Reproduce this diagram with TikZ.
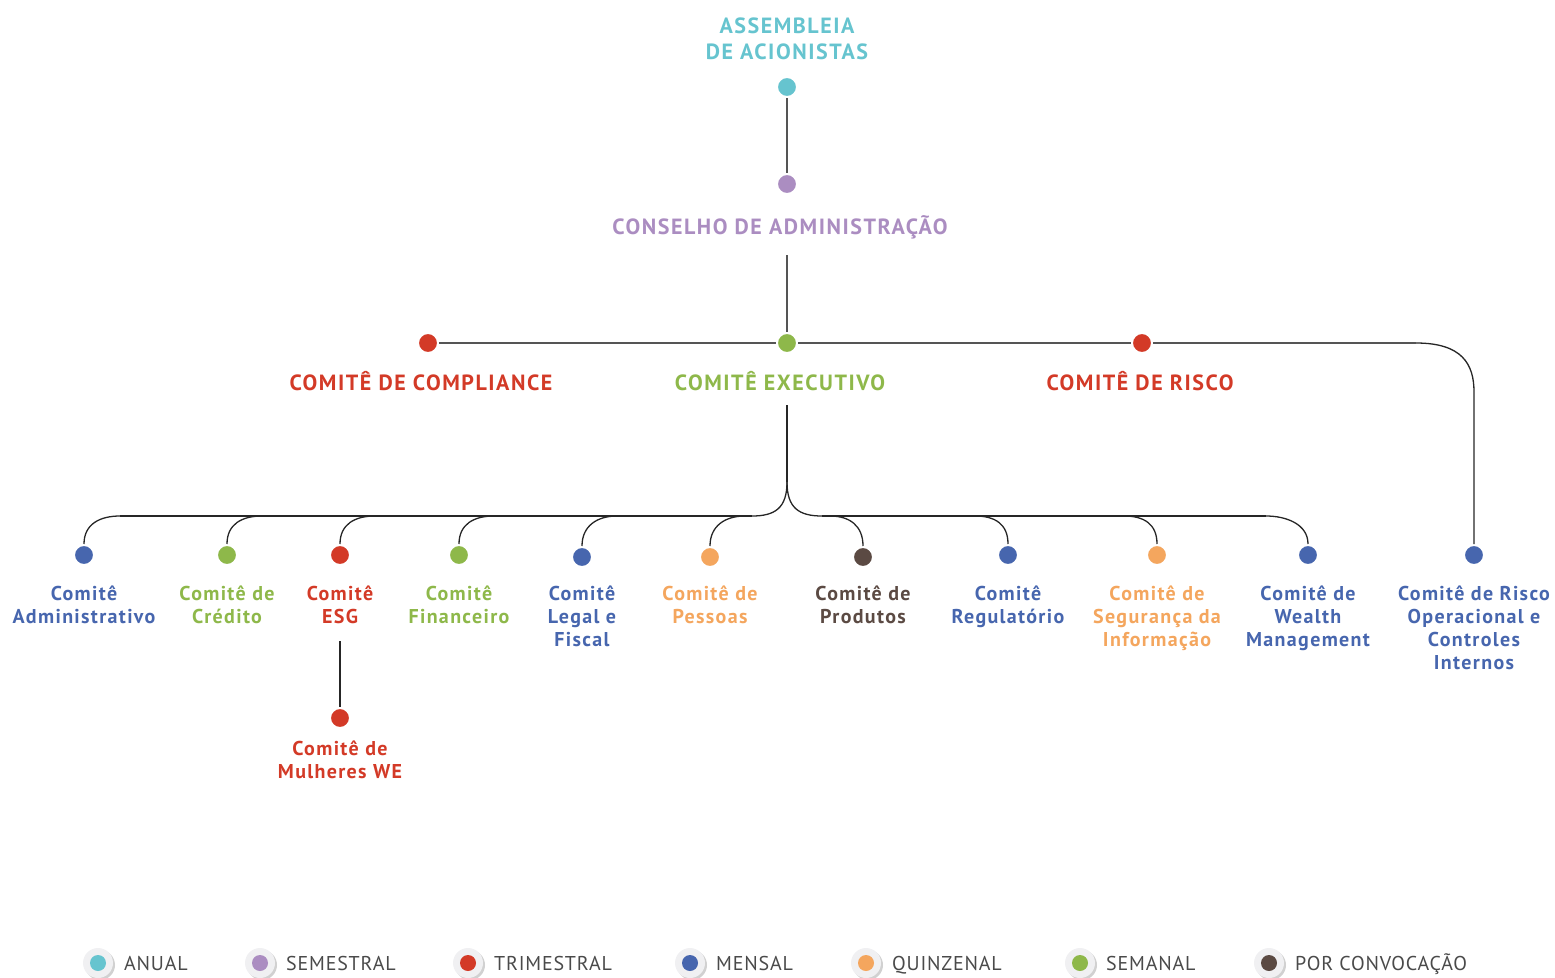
\documentclass[tikz,border=0pt]{standalone}
\usepackage{fontspec}
\setmainfont{PT Sans}
\newfontfamily\spacedbig[LetterSpace=7]{PT Sans}
\newfontfamily\spacedlab[LetterSpace=6.7]{PT Sans}
\newfontfamily\spacedleg[LetterSpace=4]{PT Sans}
\definecolor{cteal}{HTML}{66C4CF}
\definecolor{cpurple}{HTML}{AB8DC1}
\definecolor{cred}{HTML}{D33A27}
\definecolor{cblue}{HTML}{4766AE}
\definecolor{cgreen}{HTML}{8EB84A}
\definecolor{corange}{HTML}{F4A65E}
\definecolor{cbrown}{HTML}{5B4A43}
\definecolor{cline}{HTML}{555555}
\definecolor{clegtext}{HTML}{4A4A4A}
\definecolor{clegbg}{HTML}{F0F0F2}
\tikzset{
  dot/.style={circle, fill=#1, draw=white, line width=2pt, minimum size=20pt, inner sep=0pt},
  topline/.style={draw=cline, line width=1.8pt},
  busline/.style={draw=black!85, line width=1.3pt},
  big/.style={font=\spacedbig\bfseries\fontsize{22}{26}\selectfont, inner sep=0pt, anchor=base},
  lab/.style={font=\spacedlab\bfseries\fontsize{20}{23}\selectfont, inner sep=0pt, align=center, anchor=north},
  legtext/.style={font=\spacedleg\fontsize{20}{22}\selectfont, text=clegtext, inner sep=0pt, anchor=base west},
}
\newcommand\legitem[4]{%
  \fill[black!18] (#1+2,963+2) circle (15pt);
  \fill[clegbg] (#1,963) circle (15pt);
  \node[circle, fill=#2, inner sep=0pt, minimum size=16pt] (#4) at (#1,963) {};
  \node[legtext] at (#1+26,970.5) {#3};
}
\begin{document}
\begin{tikzpicture}[x=1pt,y=-1pt]
\useasboundingbox (0,0) rectangle (1555,977);
% top levels
\node[big, text=cteal, align=center, anchor=north] (asmT) at (787,18) {ASSEMBLEIA\\DE ACIONISTAS};
\node[dot=cteal] (asm) at (787,87) {};
\node[dot=cpurple] (cons) at (787,184) {};
\node[big, text=cpurple] (consT) at (780,234) {CONSELHO DE ADMINISTRAÇÃO};
\coordinate (c1) at (787,255);
\draw[topline] (asm) -- (cons);

\node[dot=cred] (comp) at (428,343) {};
\node[dot=cgreen] (exe) at (787,343) {};
\node[dot=cred] (risk) at (1142,343) {};
\node[big, text=cred] (compT) at (421,390) {COMITÊ DE COMPLIANCE};
\node[big, text=cgreen] (exeT) at (780,390) {COMITÊ EXECUTIVO};
\node[big, text=cred] (riskT) at (1140,390) {COMITÊ DE RISCO};
\draw[topline] (c1) -- (exe);
\draw[topline] (comp) -- (exe);
\draw[topline] (exe) -- (risk);

% committee dots
\node[dot=cblue] (adm) at (84,555) {};
\node[dot=cgreen] (cre) at (227,555) {};
\node[dot=cred] (esg) at (340,555) {};
\node[dot=cgreen] (fin) at (459,555) {};
\node[dot=cblue] (leg) at (582,557) {};
\node[dot=corange] (pes) at (710,557) {};
\node[dot=cbrown] (pro) at (863,557) {};
\node[dot=cblue] (reg) at (1008,555) {};
\node[dot=corange] (seg) at (1157,555) {};
\node[dot=cblue] (wea) at (1308,555) {};
\node[dot=cblue] (rop) at (1474,555) {};
\node[dot=cred] (mul) at (340,718) {};

% risk -> operational risk
\coordinate (rc1) at (1416,343);
\coordinate (rc2) at (1474,392);
\draw[topline] (risk) -- (rc1);
\draw[busline] (rc1) .. controls (1462,343) and (1474,364) .. (rc2) -- (rop);

% executive bus
\coordinate (e1) at (787,405);
\coordinate (split) at (787,482);
\coordinate (sl) at (752,516);
\coordinate (sr) at (822,516);
\draw[busline] (e1) -- (split);
\draw[busline] (split) .. controls (787,508) and (775,516) .. (sl);
\draw[busline] (split) .. controls (787,508) and (799,516) .. (sr);
\coordinate (badm) at (120,516);
\coordinate (bcre) at (262,516);
\coordinate (besg) at (375,516);
\coordinate (bfin) at (494,516);
\coordinate (bleg) at (617,516);
\coordinate (bpes) at (745,516);
\coordinate (bpro) at (830,516);
\coordinate (breg) at (975,516);
\coordinate (bseg) at (1124,516);
\coordinate (bwea) at (1266,516);
\draw[busline] (badm) -- (sl);
\draw[busline] (sr) -- (bwea);
\foreach \c/\b in {adm/badm, cre/bcre, esg/besg, fin/bfin, leg/bleg, pes/bpes}
  \draw[busline] (\c.north) .. controls +(0,-20) and +(-20,0) .. (\b);
\foreach \c/\b in {pro/bpro, reg/breg, seg/bseg, wea/bwea}
  \draw[busline] (\c.north) .. controls +(0,-20) and +(20,0) .. (\b);

% labels
\node[lab, text=cblue] (admT) at (84,586) {Comitê\\Administrativo};
\node[lab, text=cgreen] (creT) at (227,586) {Comitê de\\Crédito};
\node[lab, text=cred] (esgT) at (340,586) {Comitê\\ESG};
\node[lab, text=cgreen] (finT) at (459,586) {Comitê\\Financeiro};
\node[lab, text=cblue] (legT) at (582,586) {Comitê\\Legal e\\Fiscal};
\node[lab, text=corange] (pesT) at (710,586) {Comitê de\\Pessoas};
\node[lab, text=cbrown] (proT) at (863,586) {Comitê de\\Produtos};
\node[lab, text=cblue] (regT) at (1008,586) {Comitê\\Regulatório};
\node[lab, text=corange] (segT) at (1157,586) {Comitê de\\Segurança da\\Informação};
\node[lab, text=cblue] (weaT) at (1308,586) {Comitê de\\Wealth\\Management};
\node[lab, text=cblue] (ropT) at (1474,586) {Comitê de Risco\\Operacional e\\Controles\\Internos};
\node[lab, text=cred] (mulT) at (340,741) {Comitê de\\Mulheres WE};
\coordinate (esg1) at (340,641);
\draw[busline] (esg1) -- (mul);

% legend
\legitem{98}{cteal}{ANUAL}{l1}
\legitem{260}{cpurple}{SEMESTRAL}{l2}
\legitem{468}{cred}{TRIMESTRAL}{l3}
\legitem{690}{cblue}{MENSAL}{l4}
\legitem{866}{corange}{QUINZENAL}{l5}
\legitem{1080}{cgreen}{SEMANAL}{l6}
\legitem{1269}{cbrown}{POR CONVOCAÇÃO}{l7}
\end{tikzpicture}
\end{document}
